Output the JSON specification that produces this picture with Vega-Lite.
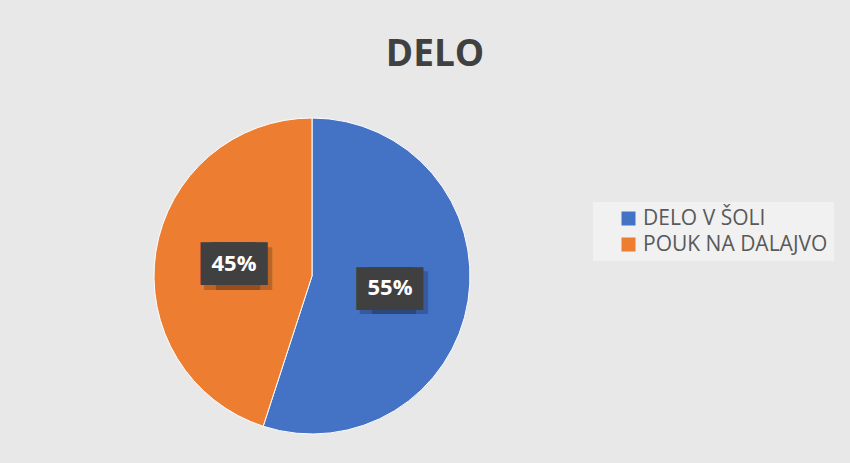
{
  "$schema": "https://vega.github.io/schema/vega-lite/v6.json",
  "autosize": {"type": "none"},
  "width": 316,
  "height": 316,
  "padding": {"left": 154, "top": 118, "right": 380, "bottom": 29},
  "background": "#e8e8e8",
  "title": {
    "text": "DELO",
    "fontSize": 37,
    "fontWeight": "bold",
    "font": "Open Sans",
    "color": "#404040",
    "anchor": "middle",
    "frame": "group",
    "baseline": "alphabetic",
    "dx": 123,
    "offset": 13
  },
  "data": {
    "values": [
      {"category": "DELO V ŠOLI", "share": 0.55},
      {"category": "POUK NA DALAJVO", "share": 0.45}
    ]
  },
  "encoding": {
    "theta": {"field": "share", "type": "quantitative", "stack": true},
    "order": {"field": "category", "sort": "ascending"}
  },
  "layer": [
    {
      "mark": {"type": "arc", "stroke": "#ffffff", "strokeWidth": 1},
      "encoding": {
        "color": {
          "field": "category",
          "type": "nominal",
          "scale": {"domain": ["DELO V ŠOLI", "POUK NA DALAJVO"], "range": ["#4472C4", "#ED7D31"]},
          "legend": {
            "title": null,
            "orient": "none",
            "legendX": 439,
            "legendY": 84,
            "symbolType": "square",
            "symbolSize": 196,
            "symbolStrokeWidth": 0,
            "symbolOffset": 19,
            "labelOffset": 4,
            "labelFont": "Open Sans",
            "labelFontSize": 21,
            "labelLimit": 300,
            "labelColor": "#595959",
            "rowPadding": 4,
            "padding": 6,
            "fillColor": "rgba(255,255,255,0.4)"
          }
        }
      }
    },
    {
      "mark": {"type": "text", "radius": 79, "text": "██", "font": "DejaVu Sans", "fontSize": 36, "baseline": "alphabetic", "dx": -2, "dy": 17, "color": "#000000", "opacity": 0.2},
      "encoding": {}
    },
    {
      "mark": {"type": "text", "radius": 79, "text": "██", "font": "DejaVu Sans", "fontSize": 36, "baseline": "alphabetic", "dx": 10, "dy": 17, "color": "#000000", "opacity": 0.2},
      "encoding": {}
    },
    {
      "mark": {"type": "text", "radius": 79, "text": "██", "font": "DejaVu Sans", "fontSize": 36, "baseline": "alphabetic", "dx": -5.5, "dy": 12.5, "color": "#404040"},
      "encoding": {}
    },
    {
      "mark": {"type": "text", "radius": 79, "text": "██", "font": "DejaVu Sans", "fontSize": 36, "baseline": "alphabetic", "dx": 5.5, "dy": 12.5, "color": "#404040"},
      "encoding": {}
    },
    {
      "mark": {"type": "text", "radius": 79, "font": "Open Sans", "fontSize": 22, "fontWeight": "bold", "baseline": "middle", "color": "#ffffff"},
      "encoding": {
        "text": {"field": "share", "type": "quantitative", "format": ".0%"}
      }
    }
  ],
  "config": {
    "view": {"stroke": null}
  }
}
